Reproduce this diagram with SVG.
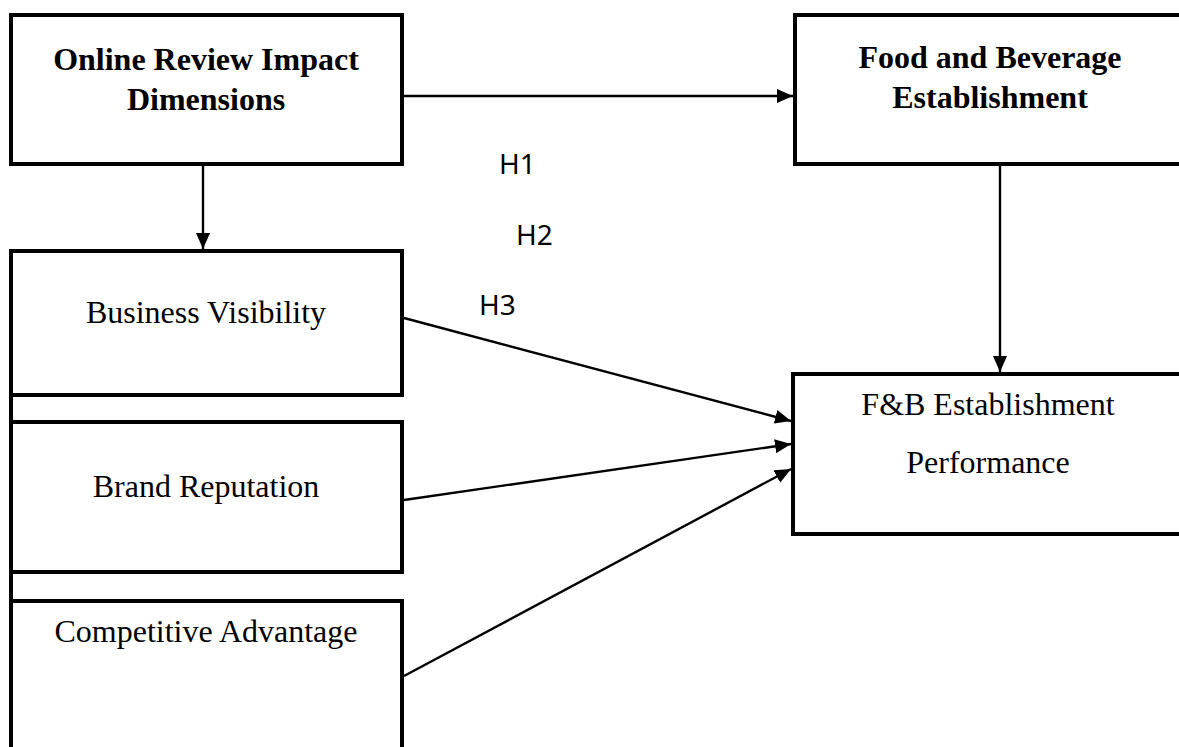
<svg xmlns="http://www.w3.org/2000/svg" width="1179" height="747" viewBox="0 0 1179 747">
<style>
.box{fill:#fff;stroke:#000;stroke-width:4}
.t{font-family:"Liberation Serif","Times New Roman",serif;font-size:32px;fill:#000;text-anchor:middle}
.b{font-weight:bold}
.h{font-family:"Noto Sans","DejaVu Sans",sans-serif;font-size:28px;fill:#000}
.c{stroke:#000;stroke-width:2.4;fill:none;marker-end:url(#ah)}
</style>
<defs>
<marker id="ah" markerUnits="userSpaceOnUse" markerWidth="16" markerHeight="14" refX="16" refY="7" orient="auto">
<path d="M0,0 L16,7 L0,14 Z" fill="#000"/>
</marker>
</defs>
<rect width="1179" height="747" fill="#fff"/>
<g id="n1"><rect class="box" x="11" y="15" width="391" height="149"/>
<text class="t b" x="206" y="70">Online Review Impact</text>
<text class="t b" x="206" y="110">Dimensions</text></g>
<g id="n2"><rect class="box" x="795" y="15" width="400" height="149"/>
<text class="t b" x="990" y="68">Food and Beverage</text>
<text class="t b" x="990" y="108">Establishment</text></g>
<g id="n3"><rect class="box" x="11" y="251" width="391" height="144"/>
<text class="t" x="206" y="323">Business Visibility</text></g>
<g id="n4"><rect class="box" x="11" y="422" width="391" height="150"/>
<text class="t" x="206" y="497">Brand Reputation</text></g>
<g id="n5"><rect class="box" x="11" y="601" width="391" height="160"/>
<text class="t" x="206" y="642">Competitive Advantage</text></g>
<g id="n6"><rect class="box" x="793" y="374" width="400" height="160"/>
<text class="t" x="988" y="415">F&amp;B Establishment</text>
<text class="t" x="988" y="473">Performance</text></g>
<g id="connectors">
<line x1="11" y1="395" x2="11" y2="422" stroke="#000" stroke-width="4"/>
<line x1="11" y1="572" x2="11" y2="601" stroke="#000" stroke-width="4"/>
<line class="c" x1="404" y1="96" x2="793" y2="96"/>
<line class="c" x1="203" y1="166" x2="203" y2="249"/>
<line class="c" x1="1000" y1="166" x2="1000" y2="372"/>
<line class="c" x1="404" y1="318" x2="791" y2="421"/>
<line class="c" x1="404" y1="500" x2="791" y2="444"/>
<line class="c" x1="404" y1="676" x2="791" y2="469"/>
</g>
<g id="labels">
<text class="h" x="499" y="174">H1</text>
<text class="h" x="516" y="245">H2</text>
<text class="h" x="479" y="315">H3</text>
</g>
</svg>
